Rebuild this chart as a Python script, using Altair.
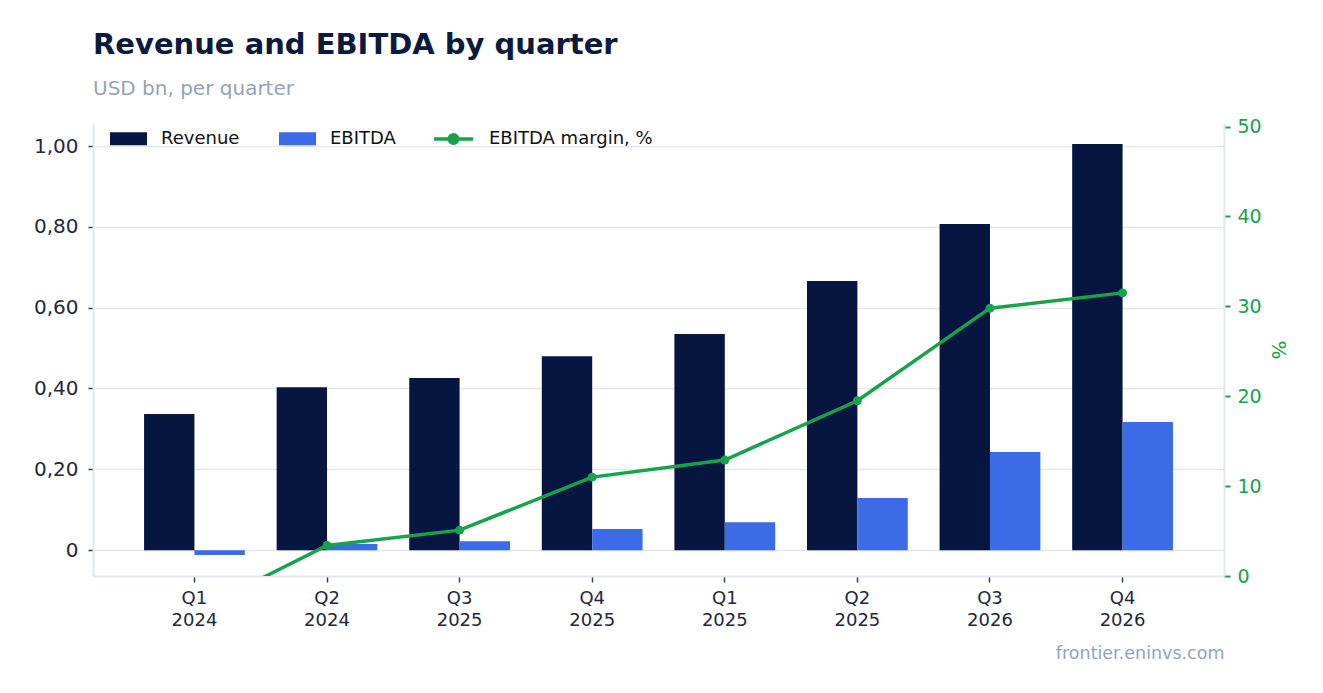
import altair as alt
import pandas as pd

quarters = ["Q1 2024", "Q2 2024", "Q3 2025", "Q4 2025", "Q1 2025", "Q2 2025", "Q3 2026", "Q4 2026"]
revenue = [0.337, 0.403, 0.426, 0.480, 0.535, 0.666, 0.807, 1.005]
ebitda = [-0.012, 0.015, 0.022, 0.052, 0.069, 0.129, 0.243, 0.317]
margin = [-4.0, 3.4, 5.1, 11.0, 12.9, 19.5, 29.8, 31.5]

series_names = ["Revenue", "EBITDA"]
line_name = "EBITDA margin, %"

NAVY = "#061640"
BLUE = "#3b6be6"
GREEN = "#16a34a"
GRID = "#e2e8f0"
MUTED = "#94a3b8"
DARK = "#1e293b"
FONT = "DejaVu Sans"

bars_df = pd.DataFrame(
    [{"quarter": q, "series": "Revenue", "value": v} for q, v in zip(quarters, revenue)]
    + [{"quarter": q, "series": "EBITDA", "value": v} for q, v in zip(quarters, ebitda)]
)
line_df = pd.DataFrame({"quarter": quarters, "margin": margin, "name": line_name})

x_enc = alt.X(
    "quarter:N",
    sort=quarters,
    scale=alt.Scale(paddingInner=0.24, paddingOuter=0.385),
    axis=alt.Axis(
        title="frontier.eninvs.com",
        titleAnchor="end",
        titleColor=MUTED,
        titleFontSize=17.5,
        titleFontWeight="normal",
        titleFont=FONT,
        titlePadding=15,
        labelAngle=0,
        labelExpr="split(datum.label, ' ')",
        labelFontSize=18,
        labelLineHeight=22,
        labelColor=DARK,
        labelFont=FONT,
        labelPadding=7,
        tickColor="#334155",
        tickSize=6,
        tickWidth=1.5,
        domainColor=GRID,
        domainWidth=2,
    ),
)

bars = alt.Chart(bars_df).mark_bar().encode(
    x=x_enc,
    xOffset=alt.XOffset("series:N", sort=series_names, scale=alt.Scale(paddingInner=0, paddingOuter=0)),
    y=alt.Y(
        "value:Q",
        scale=alt.Scale(domain=[-0.064, 1.057], nice=False, zero=False),
        axis=alt.Axis(
            title=None,
            values=[0, 0.2, 0.4, 0.6, 0.8, 1.0],
            labelExpr="datum.value == 0 ? '0' : replace(format(datum.value, '.2f'), '.', ',')",
            labelFontSize=20,
            labelColor=DARK,
            labelFont=FONT,
            labelPadding=10,
            tickColor="#334155",
            tickSize=5,
            tickWidth=1.5,
            domainColor=GRID,
            domainWidth=2,
            gridColor=GRID,
            gridWidth=1.5,
        ),
    ),
    color=alt.Color(
        "series:N",
        sort=series_names,
        scale=alt.Scale(domain=series_names, range=[NAVY, BLUE]),
        legend=alt.Legend(
            title=None,
            orient="none",
            direction="horizontal",
            legendX=17,
            legendY=-3,
            symbolType="M-1,-0.35H1V0.35H-1Z",
            symbolSize=1369,
            symbolStrokeWidth=0,
            labelFontSize=18,
            labelColor="#111111",
            labelFont=FONT,
            labelOffset=14,
            labelLimit=400,
            columnPadding=39,
            padding=0,
        ),
    ),
)

right_axis = alt.Axis(
    title="%",
    titleColor=GREEN,
    titleFontSize=20,
    titleFontWeight="normal",
    titleFont=FONT,
    titlePadding=6,
    orient="right",
    values=[0, 10, 20, 30, 40, 50],
    labelFontSize=19,
    labelColor=GREEN,
    labelFont=FONT,
    labelPadding=7,
    tickColor=GREEN,
    tickSize=6,
    tickWidth=2,
    domainColor=GRID,
    domainWidth=2,
    grid=False,
)
y_right = alt.Y("margin:Q", scale=alt.Scale(domain=[0, 50.4], nice=False, zero=False), axis=right_axis)

line = alt.Chart(line_df).mark_line(strokeWidth=3.5, clip=True).encode(
    x=alt.X("quarter:N", sort=quarters),
    y=y_right,
    stroke=alt.Stroke(
        "name:N",
        scale=alt.Scale(domain=[line_name], range=[GREEN]),
        legend=alt.Legend(
            title=None,
            orient="none",
            direction="horizontal",
            legendX=339,
            legendY=-5.5,
            symbolType="M-1,0H1M-0.22,0a0.22,0.22 0 1,0 0.44,0a0.22,0.22 0 1,0 -0.44,0",
            symbolSize=1521,
            symbolStrokeWidth=3.5,
            symbolFillColor=GREEN,
            labelFontSize=18,
            labelColor="#111111",
            labelFont=FONT,
            labelOffset=14,
            labelLimit=400,
            padding=0,
        ),
    ),
)

points = alt.Chart(line_df).mark_circle(size=80, opacity=1, clip=True, color=GREEN).encode(
    x=alt.X("quarter:N", sort=quarters),
    y=y_right,
)

chart = (
    alt.layer(bars, alt.layer(line, points))
    .resolve_scale(y="independent")
    .properties(
        width=1131,
        height=453,
        background="white",
        padding={"left": 25, "top": 22, "right": 5, "bottom": 5},
        title=alt.TitleParams(
            text="Revenue and EBITDA by quarter",
            subtitle="USD bn, per quarter",
            anchor="start",
            frame="group",
            fontSize=29,
            fontWeight="bold",
            color="#0b1a40",
            font=FONT,
            subtitleFontSize=20,
            subtitleColor=MUTED,
            subtitleFont=FONT,
            subtitlePadding=19,
            offset=19,
        ),
    )
    .configure_view(stroke=None, strokeWidth=0)
)

chart.save("out.html", embed_options={"renderer": "svg", "actions": False})
